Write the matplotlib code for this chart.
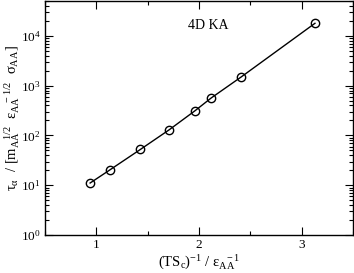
import numpy as np
import matplotlib
matplotlib.use("Agg")
import matplotlib.pyplot as plt
from matplotlib.ticker import LogLocator, NullFormatter, MultipleLocator

plt.rcParams['font.family'] = ['Liberation Serif', 'DejaVu Serif']
plt.rcParams['mathtext.fontset'] = 'custom'
plt.rcParams['mathtext.rm'] = 'Liberation Serif'
plt.rcParams['mathtext.it'] = 'Liberation Serif'
plt.rcParams['mathtext.bf'] = 'Liberation Serif:bold'

# data
inv_tsc = [0.94, 1.13, 1.43, 1.71, 1.96, 2.12, 2.41, 3.13]
tau_alpha = [11.1, 20.2, 52.5, 130, 312, 568, 1490, 17900]

fig = plt.figure(figsize=(3.54, 2.73), dpi=100)
ax = fig.add_axes([0.127, 0.139, 0.870, 0.857])

ax.plot(inv_tsc, tau_alpha, color='black', lw=1.0, marker='o', ms=6,
        mfc='none', mec='black', mew=1.0)

ax.set_yscale('log')
ax.set_xlim(0.5, 3.5)
ax.set_ylim(1, 5e4)
ax.xaxis.set_major_locator(MultipleLocator(1))
ax.xaxis.set_minor_locator(MultipleLocator(0.5))
ax.yaxis.set_major_locator(LogLocator(base=10, numticks=10))
ax.yaxis.set_minor_locator(LogLocator(base=10, subs=np.arange(2, 10), numticks=10))
ax.yaxis.set_minor_formatter(NullFormatter())

ax.tick_params(which='both', direction='in', top=True, right=True, labelsize=9.5,
               width=0.8, color='black')
ax.tick_params(which='major', length=6, pad=3)
ax.tick_params(which='minor', length=3)
for s in ax.spines.values():
    s.set_linewidth(1.0)

ax.text(0.53, 0.88, '4D KA', transform=ax.transAxes, ha='center', fontsize=10)

ax.set_xlabel(r'$(\mathrm{TS_c})^{-1}\ /\ \epsilon_{\mathrm{AA}}^{\ \ -1}$',
              fontsize=10.5, labelpad=1)
ax.set_ylabel(r'$\tau_\alpha\ \ /\ [\mathrm{m}_{\mathrm{AA}}^{\ \ \ 1/2}\ \ '
              r'\epsilon_{\mathrm{AA}}^{\ \ \ -1/2}\ \ \sigma_{\mathrm{AA}}]$',
              fontsize=10.5)
ax.yaxis.set_label_coords(-0.074, 0.5)

fig.savefig('out.png', dpi=100)
